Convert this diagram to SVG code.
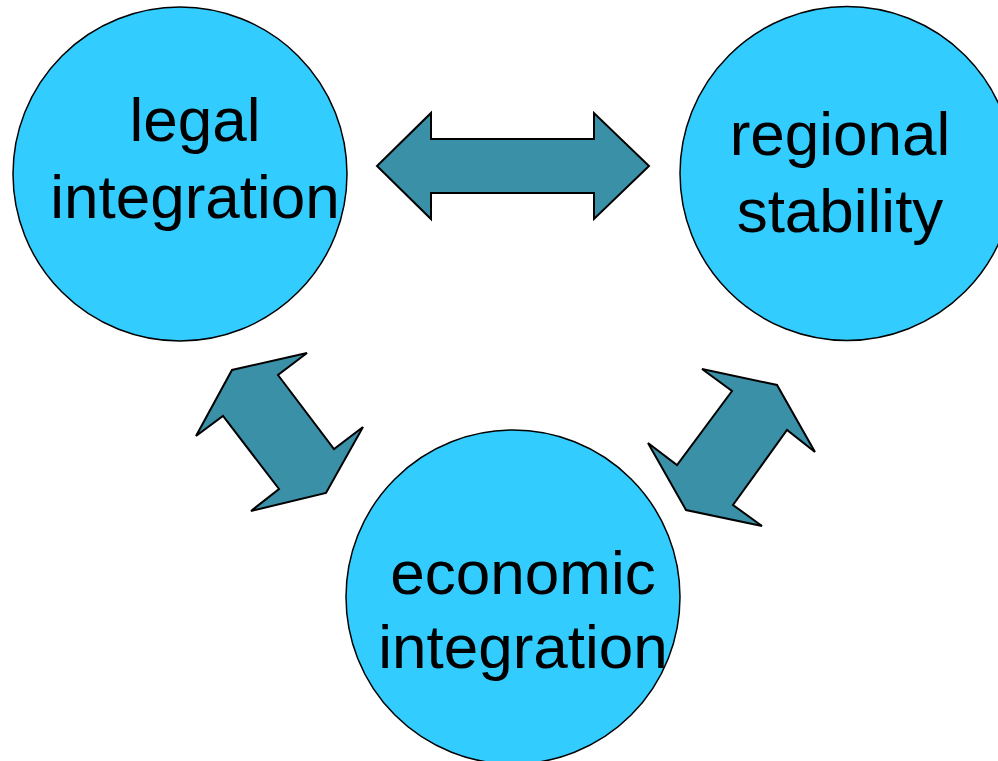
<svg xmlns="http://www.w3.org/2000/svg" width="998" height="761" viewBox="0 0 998 761">
<style>
.node{fill:#33CCFF;stroke:#000;stroke-width:1.5}
.lbl{font-family:"Liberation Sans",Arial,sans-serif;font-size:62px;fill:#000;text-anchor:middle}
.arr{fill:#3A90A7;stroke:#000;stroke-width:2;stroke-linejoin:miter}
</style>
<rect width="998" height="761" fill="#fff"/>
<g id="connectors">
<polygon class="arr" points="377,166 431,113 431,139 594,139 594,113 649,166 594,219 594,193 431,193 431,219"/>
<polygon class="arr" points="307,353 278,375 334,449 363,427 326,493 251,511 279,489 223,416 196,436 232,370"/>
<polygon class="arr" points="702,369 777,385 815,452 787,430 733,505 762,526 686,510 648,443 677,465 732,391"/>
</g>
<g id="legal">
<circle class="node" cx="180" cy="174" r="167"/>
<text class="lbl" x="195" y="141">legal</text>
<text class="lbl" x="195" y="218">integration</text>
</g>
<g id="regional">
<circle class="node" cx="847" cy="173.5" r="167"/>
<text class="lbl" x="840" y="155">regional</text>
<text class="lbl" x="840" y="232">stability</text>
</g>
<g id="economic">
<circle class="node" cx="513" cy="597" r="167"/>
<text class="lbl" x="523" y="594">economic</text>
<text class="lbl" x="523" y="668">integration</text>
</g>
</svg>
